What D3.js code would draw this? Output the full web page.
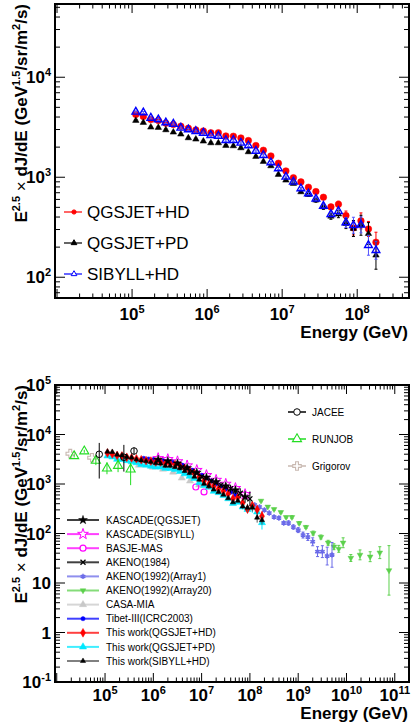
<!DOCTYPE html>
<html>
<head>
<meta charset="utf-8">
<script src="https://cdn.jsdelivr.net/npm/d3@7"></script>
<style>
  body { margin: 0; background: #fff; }
  svg { display: block; }
  text { font-family: "Liberation Sans", Arial, sans-serif; }
</style>
</head>
<body>
<svg width="412" height="728"></svg>

<script type="text/javascript">

// ---- this work: log10(E/GeV) of the bins and E^2.5 flux per model
var workLogE = [5.05, 5.15, 5.25, 5.35, 5.45, 5.55, 5.65, 5.75, 5.85, 5.95, 6.05, 6.15, 6.25, 6.35, 6.45, 6.55, 6.65,
                6.75, 6.85, 6.95, 7.05, 7.15, 7.25, 7.35, 7.45, 7.55, 7.65, 7.75, 7.85, 7.95, 8.05, 8.15, 8.25];
var qgsHD = [4236, 4046, 3776, 3690, 3467, 3365, 3236, 3090, 2972, 2904, 2786, 2786, 2588, 2570, 2472, 2328, 2075,
             1862, 1633, 1380, 1156, 989, 898, 794, 719, 631, 505, 537, 414, 311, 366, 304, 224];
var qgsPD = [3690, 3524, 3162, 3140, 2972, 2818, 2692, 2472, 2399, 2291, 2203, 2203, 2075, 2056, 1963, 1791, 1611,
             1435, 1297, 1064, 933, 865, 713, 671, 589, 505, 407, 427, 344, 307, 331, 273, 166];
var sibHD = [4498, 4436, 3917, 3776, 3524, 3412, 3112, 2999, 2884, 2773, 2630, 2588, 2344, 2344, 2203, 2075, 1832,
             1660, 1403, 1222, 1007, 898, 771, 687, 607, 516, 427, 457, 352, 331, 334, 209, 186];
// errors in dex (symmetric)
var qgsHDErr = [.01,.01,.01,.01,.01,.01,.01,.01,.01,.01,.01,.01,.01,.01,.01,.01,.01,.01,.01,.01,.01,.01,.01,
                .012,.015,.02,.025,.03,.045,.07,.08,.075,.1];
var qgsPDErr = [.01,.01,.01,.01,.01,.01,.01,.01,.01,.01,.01,.01,.01,.01,.01,.01,.01,.01,.01,.01,.01,.01,.01,
                .015,.02,.025,.03,.035,.05,.08,.1,.11,.14];
var sibHDErr = [.01,.01,.01,.01,.01,.01,.01,.01,.01,.01,.01,.01,.01,.01,.01,.01,.01,.01,.01,.01,.01,.01,.01,
                .012,.015,.02,.025,.03,.05,.08,.08,.1,.09];

// ---- other experiments (log10 E, E^2.5 flux, error low/high in dex)
var jaceeLogE = [4.88, 5.39, 5.60];
var jaceeFlux = [3980, 3470, 4640];
var jaceeLo = [0.49, 0.29, 0.07];
var jaceeHi = [0.23, 0.25, 0.07];

var runjobLogE = [4.36, 4.57, 4.81, 5.04, 5.27, 5.53];
var runjobFlux = [3680, 4580, 2960, 2075, 2340, 1980];
var runjobLo = [0.03, 0.03, 0.09, 0.12, 0.13, 0.32];
var runjobHi = [0.03, 0.03, 0.09, 0.12, 0.13, 0.13];

var grigorovLogE = [4.28, 4.73];
var grigorovFlux = [4100, 3400];

var kascadeQLogE = [6.1, 6.3, 6.5, 6.7, 6.9, 7.1, 7.3, 7.5, 7.7, 7.9];
var kascadeQFlux = [3100, 2900, 2600, 2100, 1700, 1350, 1100, 900, 750, 550];
var kascadeQErr = [.02, .02, .02, .03, .03, .04, .05, .06, .08, .12];

var kascadeSLogE = [6.1, 6.3, 6.5, 6.7, 6.9, 7.1, 7.3, 7.5, 7.7, 7.9];
var kascadeSFlux = [3300, 3150, 2850, 2350, 1900, 1500, 1200, 1000, 820, 620];

var basjeLogE = [6.88, 7.05];
var basjeFlux = [870, 690];

var akeno84LogE = [6.6, 6.8, 7.0, 7.2, 7.4, 7.6, 7.8, 8.0];
var akeno84Flux = [2200, 1800, 1400, 1150, 950, 800, 650, 500];
var akeno84Err = [.03, .03, .04, .05, .06, .08, .1, .15];

var akenoA1LogE = [8.1, 8.2, 8.3, 8.4, 8.5, 8.6, 8.7, 8.8, 8.9, 9.0, 9.1, 9.2, 9.3, 9.4, 9.5, 9.6, 9.7];
var akenoA1Flux = [377, 343, 299, 259, 215, 206, 163, 163, 135, 117, 93, 85, 68, 43, 43, 35, 37];
var akenoA1Err = [.02, .02, .02, .02, .03, .03, .03, .04, .04, .05, .06, .07, .08, .1, .12, .18, .25];

var akenoA20LogE = [8.23, 8.37, 8.5, 8.64, 8.75, 8.87, 9.02, 9.16, 9.31, 9.47, 9.62, 9.74, 9.84, 9.93, 10.09, 10.28, 10.49, 10.69, 10.88];
var akenoA20Flux = [457, 347, 309, 269, 214, 214, 162, 135, 102, 85, 65, 54, 49, 65, 32, 37, 34, 41, 18];
var akenoA20Err = [.02, .02, .02, .02, .02, .03, .03, .03, .04, .04, .05, .06, .07, .1, .07, .1, .1, .12, .5];

var casaLogE = [5.7, 5.99, 6.2, 6.41, 6.59, 6.76, 6.95];
var casaFlux = [2400, 2190, 1995, 1740, 1320, 1150, 960];

var tibetLogE = [5.8, 5.9, 6.0, 6.1, 6.2, 6.3, 6.4, 6.5, 6.6, 6.7, 6.8, 6.9, 7.0, 7.1, 7.2, 7.3, 7.4, 7.5, 7.6, 7.7];
var tibetFlux = [3300, 3200, 3100, 3000, 2950, 2850, 2750, 2600, 2400, 2150, 1900, 1700, 1500, 1300, 1150, 1000, 900, 780, 680, 600];

var topLegend = ["QGSJET+HD", "QGSJET+PD", "SIBYLL+HD"];
var rightLegend = ["JACEE", "RUNJOB", "Grigorov"];
var leftLegend = ["KASCADE(QGSJET)", "KASCADE(SIBYLL)", "BASJE-MAS", "AKENO(1984)", "AKENO(1992)(Array1)",
                  "AKENO(1992)(Array20)", "CASA-MIA", "Tibet-III(ICRC2003)", "This work(QGSJET+HD)",
                  "This work(QGSJET+PD)", "This work(SIBYLL+HD)"];

var svg = d3.select("svg");

function toPoints(logE, flux, lo, hi) {
  return logE.map(function(l, i) {
    return { e: Math.pow(10, l), v: flux[i],
             lo: lo ? lo[i] : 0, hi: hi ? hi[i] : (lo ? lo[i] : 0) };
  });
}

var symTimes = d3.symbolTimes || d3.symbolCross;
var symAst = d3.symbolAsterisk || d3.symbolStar;

// draws frame, log ticks and labels for one panel
function drawAxes(x, y, box) {
  var g = svg.append("g");
  var isMajor = function(t) { var l = Math.log10(t); return Math.abs(l - Math.round(l)) < 1e-6; };

  x.ticks().forEach(function(t) {
    var px = x(t), len = isMajor(t) ? 9 : 4.5;
    g.append("line").attr("x1", px).attr("x2", px).attr("y1", box.b).attr("y2", box.b - len);
    g.append("line").attr("x1", px).attr("x2", px).attr("y1", box.t).attr("y2", box.t + len);
    if (isMajor(t) && px > box.l + 6) {
      var ex = Math.round(Math.log10(t));
      var tx = g.append("text").attr("x", px).attr("y", box.b + box.tick)
        .attr("text-anchor", "middle").style("font-weight", "bold").style("font-size", "17px");
      tx.append("tspan").text("10");
      tx.append("tspan").attr("dy", -7).style("font-size", "11px").text(ex);
    }
  });
  y.ticks().forEach(function(t) {
    var py = y(t), len = isMajor(t) ? 10 : 5;
    g.append("line").attr("x1", box.l).attr("x2", box.l + len).attr("y1", py).attr("y2", py);
    g.append("line").attr("x1", box.r).attr("x2", box.r - len).attr("y1", py).attr("y2", py);
    if (isMajor(t)) {
      var ex = Math.round(Math.log10(t));
      var ty = g.append("text").attr("x", 51).attr("y", py + 6)
        .attr("text-anchor", "end").style("font-weight", "bold").style("font-size", "17px");
      if (ex === 0) ty.text("1");
      else if (ex === 1) ty.text("10");
      else {
        ty.append("tspan").text("10");
        ty.append("tspan").attr("dy", -7).style("font-size", "11px").text(ex);
      }
    }
  });
  g.selectAll("line").attr("stroke", "#000").attr("stroke-width", 1);

  g.append("rect").attr("x", box.l).attr("y", box.t)
    .attr("width", box.r - box.l).attr("height", box.b - box.t)
    .attr("fill", "none").attr("stroke", "#000").attr("stroke-width", 2);

  g.append("text").attr("x", box.r - 1).attr("y", box.b + box.title)
    .attr("text-anchor", "end").style("font-weight", "bold").style("font-size", "17px")
    .text("Energy (GeV)");

  var yt = g.append("text").attr("transform", "translate(27," + box.t + ") rotate(-90)")
    .attr("text-anchor", "end").style("font-weight", "bold").style("font-size", "17px");
  yt.append("tspan").text("E");
  yt.append("tspan").attr("dy", -7).style("font-size", "11px").text("2.5");
  yt.append("tspan").attr("dy", 7).style("font-weight", "normal").text(" \u00d7 ");
  yt.append("tspan").text("dJ/dE (GeV");
  yt.append("tspan").attr("dy", -7).style("font-size", "11px").text("1.5");
  yt.append("tspan").attr("dy", 7).text("/sr/m");
  yt.append("tspan").attr("dy", -7).style("font-size", "11px").text("2");
  yt.append("tspan").attr("dy", 7).text("/s)");
}

// error bars plus markers of one data set
function drawSeries(x, y, data, st) {
  var g = svg.append("g");
  var withErr = data.filter(function(d) { return d.lo > 0 || d.hi > 0; });
  var col = st.line || st.color, cap = st.cap || 0;
  g.selectAll("line.eb").data(withErr)
    .enter().append("line").attr("class", "eb")
    .attr("x1", function(d) { return x(d.e); }).attr("x2", function(d) { return x(d.e); })
    .attr("y1", function(d) { return y(d.v * Math.pow(10, d.hi)); })
    .attr("y2", function(d) { return y(d.v / Math.pow(10, d.lo)); })
    .attr("stroke", col).attr("stroke-width", st.ebw || 1);
  if (cap) {
    [function(d) { return y(d.v * Math.pow(10, d.hi)); }, function(d) { return y(d.v / Math.pow(10, d.lo)); }]
      .forEach(function(fy) {
        g.selectAll(null).data(withErr).enter().append("line")
          .attr("x1", function(d) { return x(d.e) - cap; }).attr("x2", function(d) { return x(d.e) + cap; })
          .attr("y1", fy).attr("y2", fy)
          .attr("stroke", col).attr("stroke-width", 1);
      });
  }
  g.selectAll("path").data(data).enter().append("path")
    .attr("transform", function(d) {
      return "translate(" + x(d.e) + "," + y(d.v) + ")" + (st.flip ? " rotate(180)" : "");
    })
    .attr("d", d3.symbol().type(st.type).size(st.size))
    .attr("fill", st.open ? "#fff" : st.color)
    .attr("fill-opacity", st.open ? 0 : 1)
    .attr("stroke", st.color)
    .attr("stroke-width", st.sw || (st.open ? 1.3 : 0.5));
}

function legendRow(lx, ly, len, mx, tx, label, st, fs) {
  var g = svg.append("g");
  g.append("line").attr("x1", lx).attr("x2", lx + len).attr("y1", ly).attr("y2", ly)
    .attr("stroke", st.line || st.color).attr("stroke-width", st.lw || 1.5)
    .attr("stroke-opacity", st.lop || 1);
  g.append("path").attr("transform", "translate(" + mx + "," + ly + ")" + (st.flip ? " rotate(180)" : ""))
    .attr("d", d3.symbol().type(st.type).size(st.lsize || st.size))
    .attr("fill", st.open ? "#fff" : st.color)
    .attr("stroke", st.color).attr("stroke-width", st.sw || (st.open ? 1.3 : 0.5));
  g.append("text").attr("x", tx).attr("y", ly + fs * 0.36).style("font-size", fs + "px").text(label);
}

// ================= top panel
var boxTop = { l: 55, r: 409, t: 4, b: 298, tick: 22, title: 40 };
var xTop = d3.scaleLog().domain([9.4e3, 4.9e8]).range([boxTop.l, boxTop.r]);
var yTop = d3.scaleLog().domain([62, 5.4e4]).range([boxTop.b, boxTop.t]);

var stTop = [
  { color: "#ff0000", type: d3.symbolCircle, size: 34, cap: 1.5 },
  { color: "#000000", type: d3.symbolTriangle, size: 18, cap: 1.5 },
  { color: "#0000ff", type: d3.symbolTriangle, size: 26, open: true, sw: 1.4, cap: 1.5, line: "#5555ff" }
];
drawAxes(xTop, yTop, boxTop);
drawSeries(xTop, yTop, toPoints(workLogE, qgsHD, qgsHDErr), stTop[0]);
drawSeries(xTop, yTop, toPoints(workLogE, qgsPD, qgsPDErr), stTop[1]);
drawSeries(xTop, yTop, toPoints(workLogE, sibHD, sibHDErr), stTop[2]);
topLegend.forEach(function(lab, i) {
  var st = Object.assign({}, stTop[i], { size: 14, lw: 1.2, line: null, sw: 1 });
  legendRow(64, [212, 243, 274][i], 18, 74, 87, lab, st, 17);
});

// ================= bottom panel
var boxBot = { l: 55, r: 409, t: 385, b: 682, tick: 19, title: 37 };
var xBot = d3.scaleLog().domain([9.2e3, 1.97e11]).range([boxBot.l, boxBot.r]);
var yBot = d3.scaleLog().domain([0.1, 1e5]).range([boxBot.b, boxBot.t]);

var stBot = {
  kasQ:  { color: "#000000", type: d3.symbolStar, size: 24 },
  kasS:  { color: "#ff00ff", type: d3.symbolStar, size: 36, open: true, sw: 1 },
  basje: { color: "#ff00ff", type: d3.symbolCircle, size: 28, open: true, sw: 1.2 },
  ak84:  { color: "#000000", type: symTimes, size: 18, open: true, sw: 1.3 },
  akA1:  { color: "#6a6ae8", type: symAst, size: 20, open: true, sw: 1.5, cap: 1.5 },
  akA20: { color: "#5cd04c", type: d3.symbolTriangle, size: 14, flip: true, cap: 1.5 },
  casa:  { color: "#c8c8c8", type: d3.symbolTriangle, size: 22 },
  tibet: { color: "#0000ff", type: d3.symbolCircle, size: 14 },
  wQHD:  { color: "#ff0000", type: d3.symbolDiamond, size: 22 },
  wQPD:  { color: "#00e8ff", type: d3.symbolTriangle, size: 22 },
  wSHD:  { color: "#000000", type: d3.symbolTriangle, size: 12, line: "#555" },
  jacee: { color: "#000000", type: d3.symbolCircle, size: 34, open: true, sw: 1 },
  runjob:{ color: "#22dd22", type: d3.symbolTriangle, size: 36, open: true, sw: 1.1 },
  grig:  { color: "#c8b8b0", type: d3.symbolCross, size: 40, open: true, sw: 1.1 }
};

drawAxes(xBot, yBot, boxBot);
drawSeries(xBot, yBot, toPoints(grigorovLogE, grigorovFlux), stBot.grig);
drawSeries(xBot, yBot, toPoints(casaLogE, casaFlux), stBot.casa);
drawSeries(xBot, yBot, toPoints(akenoA20LogE, akenoA20Flux, akenoA20Err), stBot.akA20);
drawSeries(xBot, yBot, toPoints(akenoA1LogE, akenoA1Flux, akenoA1Err), stBot.akA1);
drawSeries(xBot, yBot, toPoints(basjeLogE, basjeFlux), stBot.basje);
drawSeries(xBot, yBot, toPoints(kascadeSLogE, kascadeSFlux), stBot.kasS);
drawSeries(xBot, yBot, toPoints(tibetLogE, tibetFlux), stBot.tibet);
drawSeries(xBot, yBot, toPoints(workLogE, qgsPD, qgsPDErr), stBot.wQPD);
drawSeries(xBot, yBot, toPoints(workLogE, qgsHD, qgsHDErr), stBot.wQHD);
drawSeries(xBot, yBot, toPoints(workLogE, sibHD, sibHDErr), stBot.wSHD);
drawSeries(xBot, yBot, toPoints(kascadeQLogE, kascadeQFlux, kascadeQErr), stBot.kasQ);
drawSeries(xBot, yBot, toPoints(akeno84LogE, akeno84Flux, akeno84Err), stBot.ak84);
drawSeries(xBot, yBot, toPoints(runjobLogE, runjobFlux, runjobLo, runjobHi), stBot.runjob);
drawSeries(xBot, yBot, toPoints(jaceeLogE, jaceeFlux, jaceeLo, jaceeHi), stBot.jacee);

[stBot.jacee, stBot.runjob, stBot.grig].forEach(function(st, i) {
  legendRow(288, 412 + 27 * i, 18, 297, 312, rightLegend[i], st, 10);
});
var leftSt = [stBot.kasQ, stBot.kasS, stBot.basje, stBot.ak84, stBot.akA1, stBot.akA20,
              stBot.casa, stBot.tibet, stBot.wQHD, stBot.wQPD, stBot.wSHD];
leftLegend.forEach(function(lab, i) {
  var st = Object.assign({ lw: 2, lop: 0.75 }, leftSt[i]);
  legendRow(67, 520 + 14.1 * i, 32, 83, 106, lab, st, 10);
});

</script>
</body>
</html>
